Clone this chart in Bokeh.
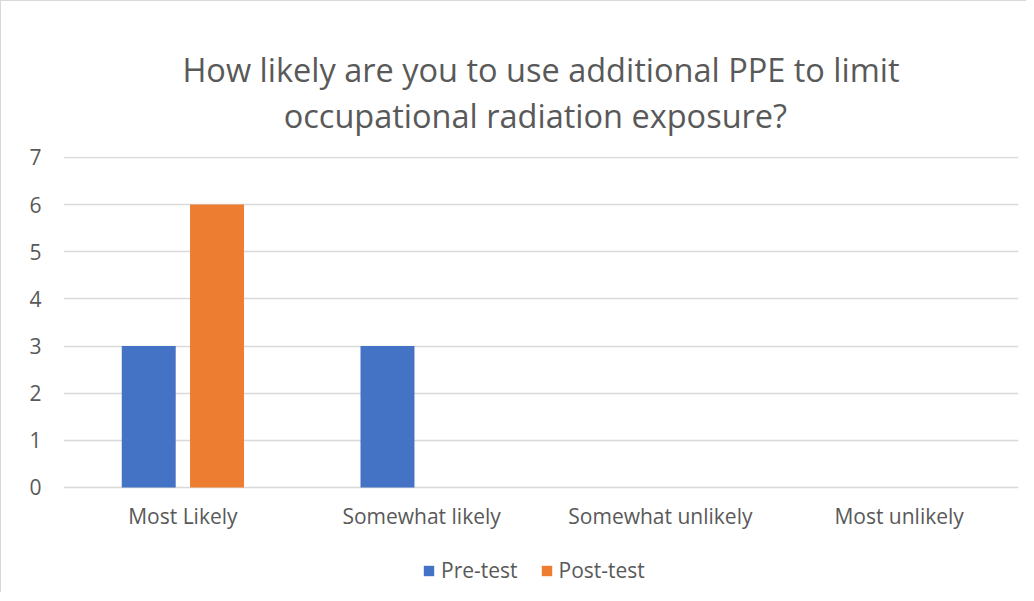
from bokeh.plotting import figure
from bokeh.models import ColumnDataSource, Legend, LegendItem, FactorRange
from bokeh.transform import dodge
from bokeh.embed import file_html
from bokeh.resources import INLINE

categories = ["Most Likely", "Somewhat likely", "Somewhat unlikely", "Most unlikely"]
pre_test = [3, 3, 0, 0]
post_test = [6, 0, 0, 0]
series_names = ["Pre-test", "Post-test"]
y_ticks = [0, 1, 2, 3, 4, 5, 6, 7]
title_lines = ["How likely are you to use additional PPE to limit",
               "occupational radiation exposure?"]

FONT = "Open Sans"
TEXT = "#595959"

src = ColumnDataSource(dict(cat=categories, pre=pre_test, post=post_test))

# the frame extends below zero so that the category labels and legend sit inside it
p = figure(x_range=FactorRange(*categories), y_range=(-2.227, 7.02),
           frame_width=955, frame_height=436, output_backend="svg", toolbar_location=None,
           min_border_left=62, min_border_right=8, min_border_top=155, min_border_bottom=0)
p.styles = {"border-left": "1px solid #d9d9d9", "border-top": "1px solid #d9d9d9"}

# second line is padded so that both lines are centred
p.title.text = title_lines[0] + "\n" + "\u00a0" * 12 + title_lines[1]
p.title.align = "center"
p.title.vertical_align = "bottom"
p.title.text_font = FONT
p.title.text_font_size = "32.5px"
p.title.text_font_style = "normal"
p.title.text_color = TEXT
p.title.text_line_height = 1.02
p.title.standoff = 37

r1 = p.vbar(x=dodge("cat", -0.143, range=p.x_range), top="pre", width=0.226,
            source=src, fill_color="#4472C4", line_color=None)
r2 = p.vbar(x=dodge("cat", 0.143, range=p.x_range), top="post", width=0.226,
            source=src, fill_color="#ED7D31", line_color=None)

p.outline_line_color = None
p.xgrid.grid_line_color = None
p.ygrid.grid_line_color = "#d9d9d9"
p.ygrid.grid_line_width = 1.3
p.yaxis.ticker = y_ticks
for ax in (p.xaxis, p.yaxis):
    ax.axis_line_color = None
    ax.major_tick_line_color = None
    ax.minor_tick_line_color = None
    ax.major_tick_out = 0
    ax.major_tick_in = 0
    ax.major_label_text_font = FONT
    ax.major_label_text_font_size = "21px"
    ax.major_label_text_color = TEXT
p.yaxis.major_label_standoff = 22
p.xaxis.major_label_standoff = 15
p.xaxis.fixed_location = 0
p.x_range.range_padding = 0
p.x_range.group_padding = 0

legend = Legend(items=[LegendItem(label=series_names[0], renderers=[r1]),
                       LegendItem(label=series_names[1], renderers=[r2])],
                orientation="horizontal", location=(359, 8),
                label_text_font=FONT, label_text_font_size="21px",
                label_text_color=TEXT, glyph_width=13, glyph_height=13,
                label_standoff=6, spacing=22, border_line_color=None,
                background_fill_alpha=0, margin=0, padding=0)
p.add_layout(legend, "center")

open("out.html", "w").write(file_html(p, INLINE))
